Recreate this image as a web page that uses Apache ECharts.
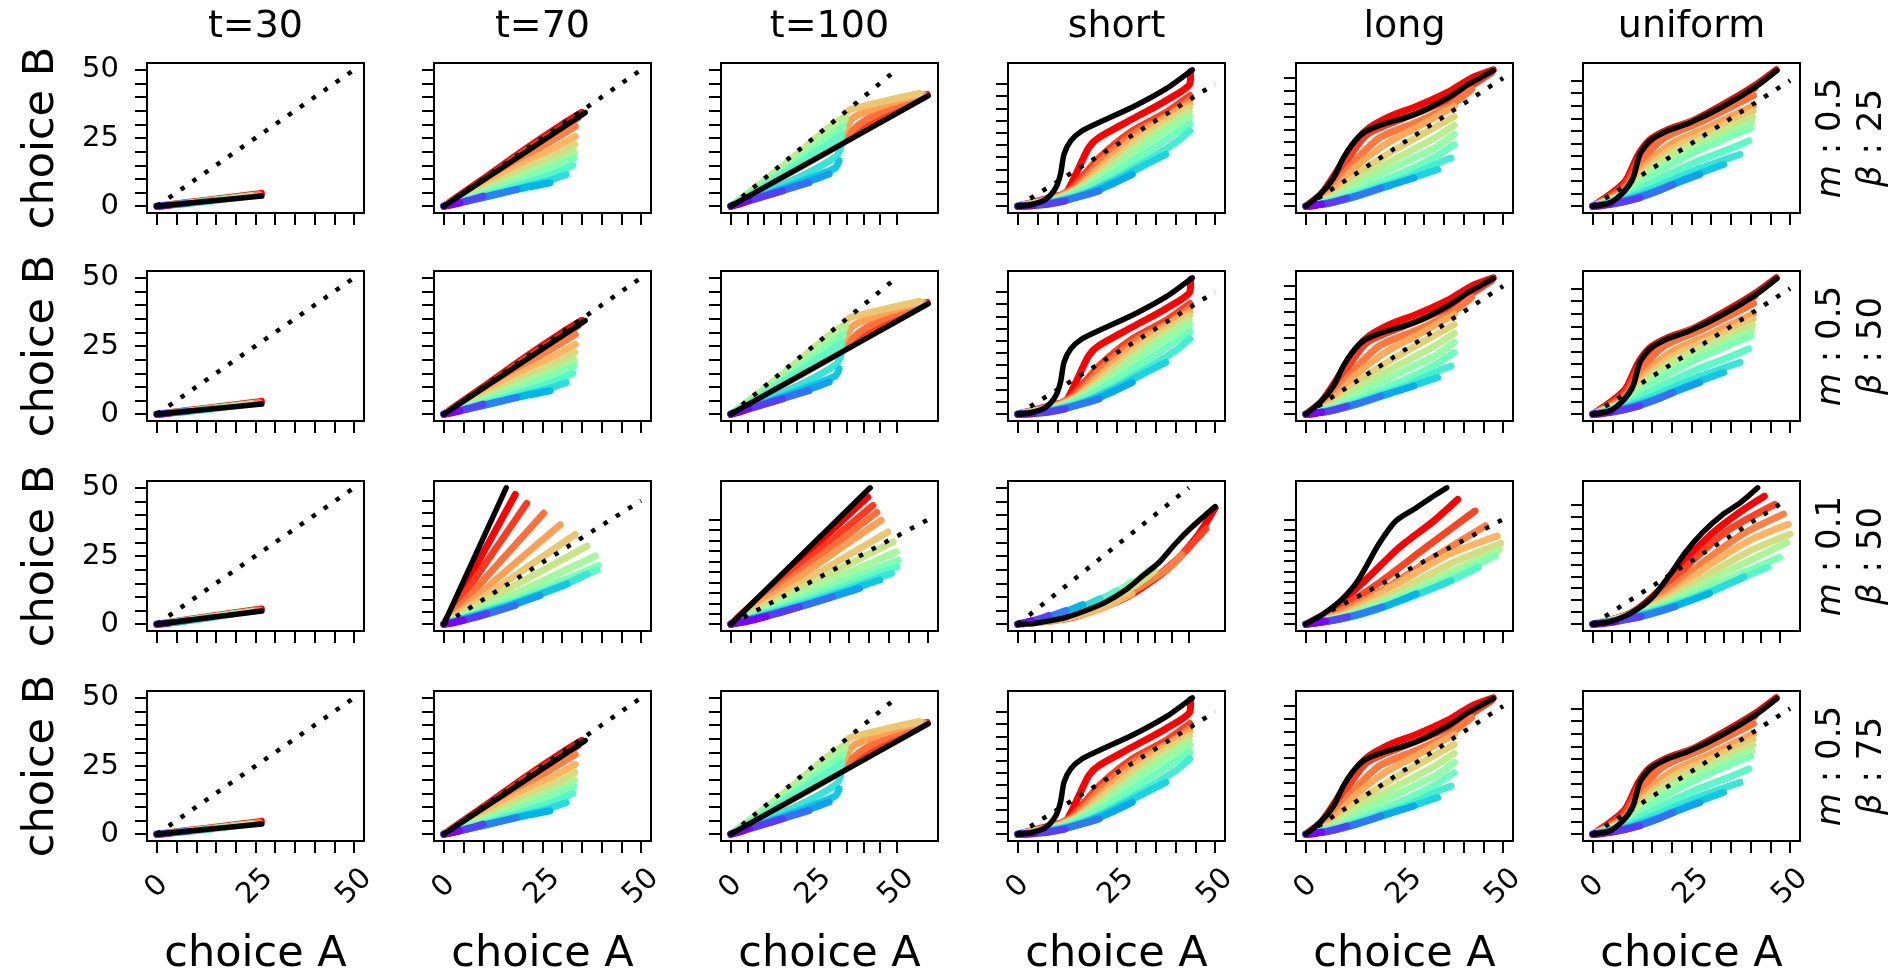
<!DOCTYPE html>
<html>
<head>
<meta charset="utf-8">
<title>choice A vs choice B</title>
<script src="https://cdn.jsdelivr.net/npm/echarts@6/dist/echarts.min.js"></script>
<style>
  html, body { margin: 0; padding: 0; background: #fff; }
  #chart { width: 1895px; height: 977px; }
</style>
</head>
<body>
<div id="chart"></div>
<script>
// ---------- labels ----------
const columnTitles = ['t=30', 't=70', 't=100', 'short', 'long', 'uniform'];
const rowM = ['0.5', '0.5', '0.1', '0.5'];
const rowBeta = ['25', '50', '50', '75'];
const tickValues = [0, 5, 10, 15, 20, 25, 30, 35, 40, 45, 50];
const tickLabelValues = [0, 25, 50];
const identityLine = [[0, 0], [50, 50]];

// ---------- trajectories, m = 0.5 ----------
const t30Fan = [
  [[0,0],[1.5,0.1],[3,0.3]],
  [[0,0],[4,0.5],[8,1.1]],
  [[0,0],[7,0.9],[14,2.0]],
  [[0,0],[10,1.3],[20,3.0]],
  [[0,0],[12,1.7],[24,3.8]],
  [[0,0],[13,2.1],[26,4.3]],
  [[0,0],[13.3,2.3],[26.5,4.7]]
];
const t30Black = [[0,0],[26.6,3.7]];

const t70Fan = [
  [[0,0],[2,0.5],[4,1.2]],
  [[0,0],[5,1.6],[10,3.7]],
  [[0,0],[6,1.9],[12,3.9],[18.4,6.1]],
  [[0,0],[9,2.9],[18,6.0],[26.9,8.6]],
  [[0,0],[10,3.4],[20,7.0],[27,9.6],[31,11.6]],
  [[0,0],[10,3.9],[20,8.2],[28,12],[32.7,14.9]],
  [[0,0],[10,4.6],[20,9.8],[29,15],[33,17.5]],
  [[0,0],[10,5.4],[20,11.6],[30,17.4],[33.1,19.8]],
  [[0,0],[10,6.2],[20,13.4],[30,20],[33.2,22.6]],
  [[0,0],[10,7.1],[20,15.4],[30,22.9],[33.3,25.6]],
  [[0,0],[10,8.1],[20,17.6],[30,26.3],[33.3,29.2]],
  [[0,0],[10,9.2],[20,19.6],[30,28.8],[34,32.4]],
  [[0,0],[10,10],[20,20.3],[30,30],[35,34.4]]
];
const t70Black = [[0,0],[35.8,34.3]];

const t100Fan = [
  [[0,0],[3,0.9],[5.5,2.2]],
  [[0,0],[8,2.9],[15.6,5.6]],
  [[0,0],[12,4.4],[23.6,8.6]],
  [[0,0],[15,5.7],[25,9.7],[29.7,11.8]],
  [[0,0],[15,6.3],[26,11.2],[31.5,14],[32.7,16.6]],
  [[0,0],[15,7.6],[26,14],[32,18.5],[33.2,21.5]],
  [[0,0],[15,11.2],[28,21.5],[33.5,26]],
  [[0,0],[15,12.2],[28,23.5],[34,29]],
  [[0,0],[15,13.2],[28,25.6],[34.5,31.5]],
  [[0,0],[15,14],[28,27.3],[34.7,33]],
  [[0,0],[20,13.9],[32,22.5],[34,30],[35.5,35],[42,37.2],[50,39.5],[57,41.3]],
  [[0,0],[20,13.8],[32,22.3],[34.5,28],[37,32.5],[45,36.5],[52,39.2],[58,41]],
  [[0,0],[20,13.7],[32,22.1],[35,26],[40,31],[48,36],[58.5,40.8]],
  [[0,0],[20,13.9],[30,21],[36,25.5],[44,31.5],[52,36.5],[59,40.8]],
  [[0,0],[20,14.1],[30,21.3],[40,28],[50,34.8],[59.3,41]]
];
const t100Black = [[0,0],[30,20.4],[59.6,40.5]];

const shortFan = [
  [[0,0],[2,0.1],[4,0.3]],
  [[0,0],[4,0.3],[8,0.9],[12,2.1]],
  [[0,0],[6,0.6],[12,2.3],[17,4.5],[20.6,6.2]],
  [[0,0],[7,0.9],[14,3.2],[21,7],[29,13]],
  [[0,0],[8,1.3],[16,4.5],[24,10],[30,15],[37.5,21.2]],
  [[0,0],[9,1.7],[18,6],[26,12.5],[34,20],[40,26],[43.6,30.8]],
  [[0,0],[9,2],[18,7.5],[26,15],[34,23.5],[43.6,33.5]],
  [[0,0],[10,2.5],[18,9],[26,17.5],[34,27],[43.6,36.5]],
  [[0,0],[10,3],[16.3,7.5],[24.8,17.8],[33.2,28.1],[43.4,38.5]],
  [[0,0],[10,3.2],[15.6,7.5],[23.6,18.2],[32,28.8],[43.5,40.2]],
  [[0,0],[10,3.5],[15,7.5],[22.5,18.5],[31,29.5],[43.5,41.8]],
  [[0,0],[10,3.8],[14.4,7.5],[21.5,19.2],[30,30.2],[38,37],[43.6,43.5]],
  [[0,0],[10,4],[13.8,7.5],[20.6,19.8],[29,30.8],[37.5,38.3],[43.6,45.2]],
  [[0,0],[10,4.2],[12.1,5],[15.5,15.8],[18,24],[20.6,28.1],[29,35.6],[37.5,43.1],[43.6,50],[43.8,55]]
];
const shortBlack = [[0,0],[3.6,0.7],[7,2.7],[9.6,7.5],[10.8,13],[11.7,21.2],[13.4,26.7],[16.3,30.8],[20.6,34.2],[29,40.4],[37.5,47.9],[44.2,55.7]];

const longFan = [
  [[0,0],[2,0.2],[4,0.8]],
  [[0,0],[5,0.9],[10.4,3.2]],
  [[0,0],[6,1.2],[12,3.6],[18.9,7.1]],
  [[0,0],[7,1.5],[14,4.4],[21,8],[27.4,11]],
  [[0,0],[8,2],[16,5.5],[25,10],[33.4,14.3]],
  [[0,0],[8,2.3],[16,6.3],[26,11.5],[33,16.5],[36.8,18.8]],
  [[0,0],[8,2.8],[16,7.5],[26,14],[33,19.5],[37.6,24]],
  [[0,0],[8,3.5],[15,9.5],[25,17],[33,23],[37.6,28]],
  [[0,0],[7,3.8],[14,11],[24,19.5],[32,26],[37.6,31.5]],
  [[0,0],[7,4.2],[13,12.5],[22,21.5],[30,28.5],[37.6,35]],
  [[0,0],[6,4.5],[12,14.5],[20,24],[29,31.5],[37.6,39]],
  [[0,0],[5.5,4.6],[11.5,16],[18.5,26.5],[28,32.8],[36,38.5],[42,45.5]],
  [[0,0],[5,4.6],[10.5,18],[15.5,28],[24,33.8],[36,41.5],[47,52]],
  [[0,0],[4,5],[8,14],[12,24],[16,30.5],[22,35.5],[27.4,38.5],[36,44.5],[42,50],[47.5,53.2]]
];
const longBlack = [[0,0],[3.6,4.5],[7,11],[9.5,18.8],[11.7,24],[14.6,28.6],[18.9,31.6],[27.4,35.7],[36,42.2],[41.1,47.4],[47.5,52.9]];

const uniformFan = [
  [[0,0],[2,0.2],[4.5,0.9]],
  [[0,0],[5,0.8],[11.9,3.3]],
  [[0,0],[7,1.5],[14,4.6],[20.3,8.6]],
  [[0,0],[8,2],[16,5.8],[22,9.6],[27.1,12.6]],
  [[0,0],[8,2.3],[17,6.8],[26,12.5],[33.1,16.6]],
  [[0,0],[8,2.8],[17,8.3],[27,15],[37.3,20.6]],
  [[0,0],[8,3.5],[16,10],[26,17.5],[35,23],[39.5,26]],
  [[0,0],[8,4.2],[15,12],[24,20],[33,26.5],[40,31]],
  [[0,0],[8,4.6],[14.5,13],[23,21.3],[32.5,28],[40.3,33.3]],
  [[0,0],[8,5],[14,14],[22,22.5],[32,29.5],[40.5,35.5]],
  [[0,0],[8,5.5],[13.5,15],[21,23.8],[31,30.8],[40.6,37.8]],
  [[0,0],[8,6],[13,16],[20,25],[30,32],[40.7,40]],
  [[0,0],[8,7],[12.5,18],[18,27],[28,34],[40.7,44]],
  [[0,0],[8,8.5],[12,20],[16,27.5],[24,33],[33,39],[41,47]],
  [[0,0],[8,9.5],[11.5,20.5],[14.5,26.5],[19,30.5],[25,33.8],[33,40.5],[41.5,48.5],[46.5,54.3]]
];
const uniformBlack = [[0,0],[4.2,1.3],[7.6,5.3],[10.2,11.3],[11.9,20.6],[14.4,25.9],[18.7,29.8],[24.6,33.2],[33.1,39.8],[41.5,47.8],[46.6,54]];

// ---------- trajectories, m = 0.1 ----------
const t30FanM01 = [
  [[0,0],[1.5,0.15],[3,0.4]],
  [[0,0],[4,0.6],[8,1.4]],
  [[0,0],[7,1.1],[14,2.5]],
  [[0,0],[10,1.7],[20,3.8]],
  [[0,0],[12,2.2],[24,4.7]],
  [[0,0],[13,2.6],[26,5.2]],
  [[0,0],[13.3,2.8],[26.5,5.6]]
];
const t30BlackM01 = [[0,0],[26.6,4.8]];

const t70FanM01 = [
  [[0,0],[2.5,0.6],[4.9,1.6]],
  [[0,0],[5,1.6],[10.8,4.3]],
  [[0,0],[9,3.2],[18.1,7.6]],
  [[0,0],[12,4.8],[24.4,11.6]],
  [[0,0],[15,6.8],[31.2,16.3]],
  [[0,0],[18,8.6],[30,15.5],[36.3,20.3]],
  [[0,0],[18,9.4],[32,17.5],[38.8,21.9]],
  [[0,0],[20,11.5],[33,19.6],[39.2,23.8]],
  [[0,0],[20,13.8],[38.4,27.6]],
  [[0,0],[36.3,31.6]],
  [[0,0],[33.3,36.3]],
  [[0,0],[29.5,40.3]],
  [[0,0],[25.3,44.9]],
  [[0,0],[21,48.9]],
  [[0,0],[18.1,52.5]]
];
const t70BlackM01 = [[0,0],[15.8,55.2]];

const t100FanM01 = [
  [[0,0],[4,1.2],[8.9,3.6]],
  [[0,0],[9,3.8],[17.4,8.4]],
  [[0,0],[13,5.8],[25.8,13.1]],
  [[0,0],[16,7.5],[32.6,17.1]],
  [[0,0],[19,9.5],[37.7,21.1]],
  [[0,0],[20,11],[40.7,24.3]],
  [[0,0],[22,13.5],[42.1,27.4]],
  [[0,0],[22,15.5],[42.4,30.6]],
  [[0,0],[42,34.6]],
  [[0,0],[41.1,39.3]],
  [[0,0],[39.8,44.1]],
  [[0,0],[38.1,49.7]],
  [[0,0],[37,53.5]],
  [[0,0],[36,56.8]],
  [[0,0],[34.7,60.8]]
];
const t100BlackM01 = [[0,0],[35.3,65.2]];

const shortFanM01 = [
  [[0,0],[2,0.5],[4,1.2]],
  [[0,0],[5,1.5],[9,3.2]],
  [[0,0],[7,2],[14,5]],
  [[0,0],[8,2.1],[14,4.6],[19,7.2]],
  [[0,0],[8,2],[16,4.8],[24,9.4]],
  [[0,0],[10,2.3],[20,6.5],[29,12.3]],
  [[0,0],[10,2],[22,6.5],[33.4,15.6]],
  [[0,0],[12,2.6],[24,8],[34,15.2],[38,19.6]],
  [[0,0],[12,2.3],[24,7.2],[34,14],[40,19.5]],
  [[0,0],[12,1.6],[24,5.5],[33.4,11.2]],
  [[0,0],[12,1.9],[24,6.2],[36,14],[44,20.5],[48,25.5]],
  [[0,0],[14,2.3],[28,8],[40,17],[48,25.5],[55,35]],
  [[0,0],[16,2.5],[32,10],[44,20.5],[52,31.5],[57.7,42.5]]
];
const shortBlackM01 = [[0,0],[4.4,0.2],[9.2,1.2],[14.1,2.5],[19.9,5.0],[25.7,8.1],[31.5,12.5],[36.3,17.5],[41.2,22.5],[46,29.4],[50.9,35.6],[57.7,43.1]];

const longFanM01 = [
  [[0,0],[2.5,0.5],[5,1.5]],
  [[0,0],[5,1.2],[10.6,3.5]],
  [[0,0],[7,1.8],[13,4.5],[19.3,8.2]],
  [[0,0],[9,2.5],[18,7],[28,14.5]],
  [[0,0],[10,3],[20,8.5],[30,15.5],[36.8,20.8]],
  [[0,0],[10,3.3],[22,10],[34,18.5],[43.7,27.1]],
  [[0,0],[10,3.6],[22,11.5],[36,22],[48.1,32.7]],
  [[0,0],[10,4],[24,14],[38,26],[49,35.5]],
  [[0,0],[10,4.5],[24,16.5],[38,30],[49.4,38.5]],
  [[0,0],[10,5.5],[22,18],[36,33],[48.5,42]],
  [[0,0],[8,5.5],[19.3,16.1],[32.4,31.8],[45.5,46.9]],
  [[0,0],[8,7],[18,19],[30,36],[42.9,54]],
  [[0,0],[6.3,6.6],[15,20.8],[23.7,36.6],[32.4,49.2],[38.5,59.5]]
];
const longBlackM01 = [[0,0],[4.5,5],[8.9,11.4],[13.2,20.8],[18.5,38.2],[22.8,49.2],[28,55.5],[32.4,61.1],[35.7,65]];

const uniformFanM01 = [
  [[0,0],[3,0.3],[6,1]],
  [[0,0],[6,1.1],[12.9,3.1]],
  [[0,0],[8,1.7],[15,4],[22,7.3]],
  [[0,0],[10,2.5],[20,6.5],[31.2,12.8]],
  [[0,0],[10,2.7],[22,8],[32,13.8],[40.4,19.7]],
  [[0,0],[10,2.9],[22,8.6],[34,15.5],[46.8,23.8]],
  [[0,0],[10,3.1],[22,9.4],[35,18],[50,27.9]],
  [[0,0],[10,3.4],[20,9.5],[32,19],[42,26.5],[51.9,34.1]],
  [[0,0],[10,3.8],[20,10.5],[30,20],[42,30.5],[52.8,37.6]],
  [[0,0],[10,4],[20,12],[30,23.5],[42,35],[52.3,41.7]],
  [[0,0],[10,4.2],[18,11.5],[28,24],[40,37.5],[51,45.9]],
  [[0,0],[10,4.4],[18,13],[26,25.5],[36,39],[48.7,50]],
  [[0,0],[10,4.5],[17,13],[24,25.5],[32,38],[40,47.5],[45.9,53.4]]
];
const uniformBlackM01 = [[0,0],[4.6,1.1],[10.1,4.5],[15.6,10.7],[20.2,19.7],[24.8,30],[29.4,38.3],[34.9,45.9],[39.5,50.7],[44.1,56.9]];

// ---------- panel assignment (rows: m/β settings, columns: horizon / schedule) ----------
const fanRows = [
  [t30Fan, t70Fan, t100Fan, shortFan, longFan, uniformFan],
  [t30Fan, t70Fan, t100Fan, shortFan, longFan, uniformFan],
  [t30FanM01, t70FanM01, t100FanM01, shortFanM01, longFanM01, uniformFanM01],
  [t30Fan, t70Fan, t100Fan, shortFan, longFan, uniformFan]
];
const blackRows = [
  [t30Black, t70Black, t100Black, shortBlack, longBlack, uniformBlack],
  [t30Black, t70Black, t100Black, shortBlack, longBlack, uniformBlack],
  [t30BlackM01, t70BlackM01, t100BlackM01, shortBlackM01, longBlackM01, uniformBlackM01],
  [t30Black, t70Black, t100Black, shortBlack, longBlack, uniformBlack]
];

// ---------- layout ----------
const FONT = 'DejaVu Sans';
const colLeft = [147, 434, 721, 1008, 1296, 1583];
const rowTop = [63, 271, 481, 691];
const panelW = 217, panelH = 150;

// matplotlib "rainbow" colormap
function rainbow(t) {
  const r = Math.min(1, Math.abs(2 * t - 0.5));
  const g = Math.sin(Math.PI * t);
  const b = Math.cos(Math.PI * t / 2);
  return 'rgb(' + Math.round(r * 255) + ',' + Math.round(g * 255) + ',' + Math.round(b * 255) + ')';
}

// autoscale with 5% margins
function paddedRange(lines, dim) {
  let lo = Infinity, hi = -Infinity;
  lines.forEach(function (line) {
    line.forEach(function (p) { lo = Math.min(lo, p[dim]); hi = Math.max(hi, p[dim]); });
  });
  const pad = (hi - lo) * 0.05;
  return [lo - pad, hi + pad];
}

const grids = [], xAxes = [], yAxes = [], series = [], graphics = [];

for (let r = 0; r < 4; r++) {
  for (let c = 0; c < 6; c++) {
    const k = r * 6 + c;
    const fan = fanRows[r][c];
    const black = blackRows[r][c];
    const all = fan.concat([black, identityLine]);
    const xr = paddedRange(all, 0);
    const yr = paddedRange(all, 1);

    grids.push({
      left: colLeft[c], top: rowTop[r], width: panelW, height: panelH,
      show: true, borderColor: '#000', borderWidth: 2, containLabel: false
    });

    xAxes.push({
      type: 'value', gridIndex: k, min: xr[0], max: xr[1],
      axisLine: { show: true, onZero: false, lineStyle: { color: '#000', width: 2 } },
      axisTick: { show: true, customValues: tickValues, length: 12, lineStyle: { color: '#000', width: 2 } },
      axisLabel: {
        show: r === 3, customValues: tickLabelValues, rotate: 45,
        align: 'center', verticalAlign: 'middle', margin: 46,
        fontSize: 29, color: '#000', fontFamily: FONT
      },
      splitLine: { show: false },
      name: r === 3 ? 'choice A' : '', nameLocation: 'middle', nameGap: 92,
      nameTextStyle: { fontSize: 43, color: '#000', fontFamily: FONT }
    });

    yAxes.push({
      type: 'value', gridIndex: k, min: yr[0], max: yr[1],
      axisLine: { show: true, onZero: false, lineStyle: { color: '#000', width: 2 } },
      axisTick: { show: true, customValues: tickValues, length: 12, lineStyle: { color: '#000', width: 2 } },
      axisLabel: {
        show: c === 0, customValues: tickLabelValues, margin: 28,
        fontSize: 29, color: '#000', fontFamily: FONT
      },
      splitLine: { show: false },
      name: c === 0 ? 'choice B' : '', nameLocation: 'middle', nameGap: 84, nameRotate: 90,
      nameTextStyle: { fontSize: 43, color: '#000', fontFamily: FONT }
    });

    // warm trajectories first, cool ones on top of them near the origin
    const n = fan.length;
    for (let i = n - 1; i >= 0; i--) {
      series.push({
        type: 'line', xAxisIndex: k, yAxisIndex: k, data: fan[i],
        symbol: 'none', smooth: 0.25, silent: true, z: 2,
        lineStyle: { color: rainbow(n > 1 ? i / (n - 1) : 1), width: 7, cap: 'round', join: 'round' }
      });
    }
    series.push({
      type: 'line', xAxisIndex: k, yAxisIndex: k, data: black,
      symbol: 'none', smooth: 0.25, silent: true, z: 3,
      lineStyle: { color: '#000', width: 5.5, cap: 'round', join: 'round' }
    });
    series.push({
      type: 'line', xAxisIndex: k, yAxisIndex: k, data: identityLine,
      symbol: 'none', silent: true, z: 4,
      lineStyle: { color: '#000', width: 4.5, type: [4.5, 10], cap: 'butt' }
    });
  }
}

// column titles
columnTitles.forEach(function (t, c) {
  graphics.push({
    type: 'text', x: colLeft[c] + panelW / 2, y: 27, silent: true,
    style: {
      text: t, fill: '#000', fontSize: 38, fontFamily: FONT,
      align: 'center', verticalAlign: 'middle', textAlign: 'center', textVerticalAlign: 'middle'
    }
  });
});

// parameter labels on the right of each row
for (let r = 0; r < 4; r++) {
  const cy = rowTop[r] + panelH / 2;
  const lines = [['m', rowM[r], 1831], ['β', rowBeta[r], 1872]];
  lines.forEach(function (ln) {
    graphics.push({
      type: 'text', x: ln[2], y: cy, rotation: Math.PI / 2, silent: true,
      style: {
        text: '{it|' + ln[0] + '}{n| : ' + ln[1] + '}',
        fill: '#000', fontSize: 34, fontFamily: FONT,
        align: 'center', verticalAlign: 'middle', textAlign: 'center', textVerticalAlign: 'middle',
        rich: {
          it: { fontStyle: 'italic', fontSize: 34, fontFamily: FONT, fill: '#000' },
          n: { fontSize: 34, fontFamily: FONT, fill: '#000' }
        }
      }
    });
  });
}

const chart = echarts.init(document.getElementById('chart'), null, { renderer: 'canvas' });
chart.setOption({
  animation: false,
  backgroundColor: '#fff',
  grid: grids,
  xAxis: xAxes,
  yAxis: yAxes,
  series: series,
  graphic: graphics
});
</script>
</body>
</html>
